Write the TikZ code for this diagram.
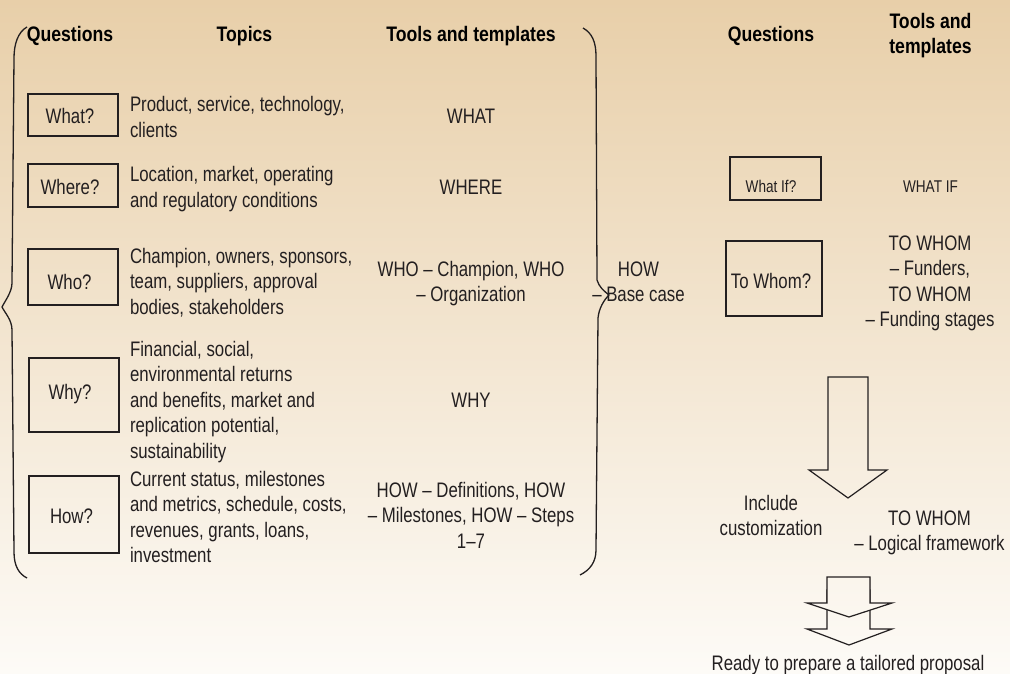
\documentclass[tikz,border=0pt]{standalone}
\usepackage{fontspec}
\setmainfont{Liberation Sans}[FakeStretch=0.8]
\newfontfamily\hfont{Liberation Sans}[FakeStretch=0.84]
\definecolor{bgtop}{RGB}{232,207,169}
\definecolor{bgbot}{RGB}{253,251,247}
\definecolor{txt}{RGB}{35,31,32}
\newcommand\tstr{\rule{0pt}{16pt}}
\begin{document}
\begin{tikzpicture}[x=1pt,y=-1pt,
  every node/.style={inner sep=0pt, outer sep=0pt, text=txt},
  body/.style={font=\fontsize{21}{25.5}\selectfont},
  small/.style={font=\fontsize{17}{21}\selectfont},
  hdr/.style={font=\hfont\bfseries\fontsize{21}{25}\selectfont, text=black},
  lt/.style={body, align=left, anchor=north west},
  ct/.style={body, align=center, anchor=north},
  bl/.style={body, anchor=base},
  qbox/.style={draw=txt, line width=1.3pt},
  brace/.style={draw=txt, line width=1.3pt, line join=round},
  blockarrow/.style={draw=txt, line width=1.2pt, line join=miter}]

% background
\fill[top color=bgtop, bottom color=bgbot] (0,0) rectangle (1010,674);
\useasboundingbox (0,0) rectangle (1010,674);

% headers
\node[hdr, anchor=base] (hq) at (70,42) {Questions};
\node[hdr, anchor=base] (ht) at (244.5,42) {Topics};
\node[hdr, anchor=base] (htt) at (471,42) {Tools and templates};
\node[hdr, anchor=base] (hq2) at (771,42) {Questions};
\node[hdr, align=center, anchor=north] (htt2) at (930.5,13) {\tstr Tools and\\templates};

% question boxes (left)
\node[qbox, minimum width=90pt, minimum height=42pt] (qwhat) at (73,115) {};
\node[qbox, minimum width=90pt, minimum height=43pt] (qwhere) at (73,185.5) {};
\node[qbox, minimum width=90pt, minimum height=56pt] (qwho) at (73,277) {};
\node[qbox, minimum width=90pt, minimum height=74pt] (qwhy) at (74,395) {};
\node[qbox, minimum width=90pt, minimum height=77pt] (qhow) at (74,514.5) {};
\node[bl] (lwhat) at (70,124) {What?};
\node[bl] (lwhere) at (70,194) {Where?};
\node[bl] (lwho) at (69.5,289) {Who?};
\node[bl] (lwhy) at (70,399) {Why?};
\node[bl] (lhow) at (71.5,523) {How?};

% topics
\node[lt] (tp1) at (130,96) {\tstr Product, service, technology,\\clients};
\node[lt] (tp2) at (130,166) {\tstr Location, market, operating\\and regulatory conditions};
\node[lt] (tp3) at (130,247) {\tstr Champion, owners, sponsors,\\team, suppliers, approval\\bodies, stakeholders};
\node[lt] (tp4) at (130,340) {\tstr Financial, social,\\environmental returns\\and benefits, market and\\replication potential,\\sustainability};
\node[lt] (tp5) at (130,470) {\tstr Current status, milestones\\and metrics, schedule, costs,\\revenues, grants, loans,\\investment};

% tools and templates
\node[bl] (tw1) at (471,124) {WHAT};
\node[bl] (tw2) at (471,194) {WHERE};
\node[ct] (tw3) at (471,260) {\tstr WHO – Champion, WHO\\– Organization};
\node[bl] (tw4) at (471,407) {WHY};
\node[ct] (tw5) at (471,481) {\tstr HOW – Definitions, HOW\\– Milestones, HOW – Steps\\1–7};

% braces
\draw[brace] (27,27) .. controls (18,32) and (14,44) .. (14,58) -- (12,283)
  .. controls (12,292) and (5,301) .. (2,307)
  .. controls (5,313) and (12,320) .. (12,330) -- (14,552)
  .. controls (14,566) and (19,574) .. (27,578);
\draw[brace] (583,28) .. controls (592,33) and (596,42) .. (596,56) -- (597,280)
  .. controls (599,287) and (604,291) .. (609,295)
  .. controls (604,300) and (599,308) .. (598,318) -- (596,550)
  .. controls (596,562) and (590,570) .. (580,575);

\node[ct] (hb) at (638.5,260) {\tstr HOW\\– Base case};

% right side
\node[qbox, minimum width=91pt, minimum height=43pt] (qwif) at (775.5,178.5) {};
\node[small, anchor=base] (lwif) at (771,193) {What If?};
\node[small, anchor=base] (twif) at (930.5,193) {WHAT IF};
\node[qbox, minimum width=96pt, minimum height=75pt] (qwhom) at (774,278.5) {};
\node[bl] (lwhom) at (771,288) {To Whom?};
\node[ct] (tw6) at (930,234) {\tstr TO WHOM\\– Funders,\\TO WHOM\\– Funding stages};

% big arrow
\draw[blockarrow] (828,377) -- (868,377) -- (868,470) -- (887,470) -- (848,498) -- (809,470) -- (828,470) -- cycle;

\node[ct] (inc) at (771,494) {\tstr Include\\customization};
\node[ct] (tw7) at (929.5,509) {\tstr TO WHOM\\– Logical framework};

% double arrow
\draw[blockarrow] (827,590) -- (870,590) -- (870,629) -- (892,629) -- (849,645) -- (807,629) -- (827,629) -- cycle;
\begin{scope}
  \clip (827,577) -- (870,577) -- (870,603) -- (892,603) -- (849,617) -- (807,603) -- (827,603) -- cycle;
  \fill[top color=bgtop, bottom color=bgbot] (0,0) rectangle (1010,674);
\end{scope}
\draw[blockarrow] (827,577) -- (870,577) -- (870,603) -- (892,603) -- (849,617) -- (807,603) -- (827,603) -- cycle;

\node[bl] (ready) at (848,670) {Ready to prepare a tailored proposal};
\end{tikzpicture}
\end{document}
